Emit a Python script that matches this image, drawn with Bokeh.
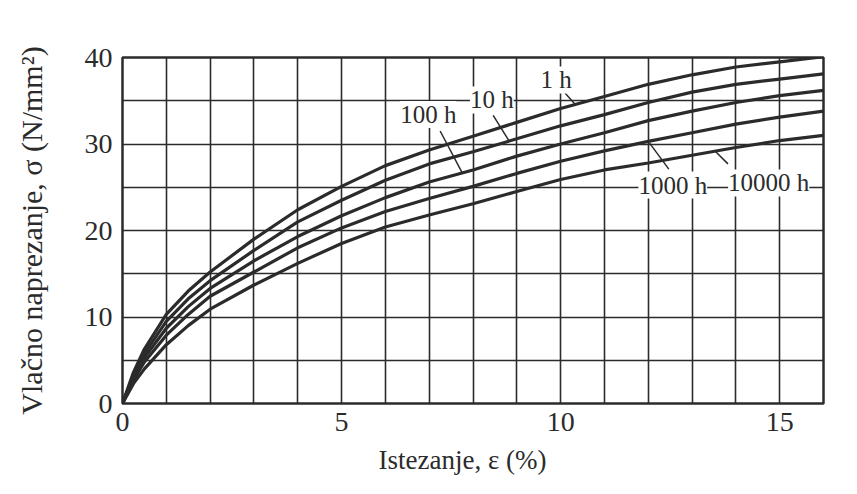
from bokeh.plotting import figure
from bokeh.models import Range1d, SingleIntervalTicker, Label, Title
from bokeh.embed import file_html
from bokeh.resources import INLINE

# strain (%) sample points
strain = [0, 0.25, 0.5, 1, 1.5, 2, 3, 4, 5, 6, 7, 8, 9, 10, 11, 12, 13, 14, 15, 16]
# stress (N/mm^2) for each creep time
s_1h = [0, 3.6, 6.3, 10.3, 13.0, 15.2, 19.0, 22.4, 25.1, 27.5, 29.3, 30.9, 32.5, 34.1, 35.5, 36.9, 38.0, 38.9, 39.5, 40.1]
s_10h = [0, 3.3, 5.8, 9.5, 12.1, 14.2, 17.7, 21.0, 23.5, 25.8, 27.7, 29.1, 30.6, 32.1, 33.4, 34.8, 36.0, 36.9, 37.5, 38.1]
s_100h = [0, 3.0, 5.3, 8.7, 11.2, 13.3, 16.5, 19.3, 21.7, 23.8, 25.6, 27.0, 28.6, 30.0, 31.3, 32.7, 33.8, 34.8, 35.6, 36.2]
s_1000h = [0, 2.7, 4.8, 7.9, 10.3, 12.4, 15.2, 18.0, 20.3, 22.2, 23.7, 25.1, 26.6, 28.0, 29.2, 30.3, 31.3, 32.3, 33.1, 33.8]
s_10000h = [0, 2.3, 4.0, 6.8, 9.0, 10.9, 13.7, 16.2, 18.5, 20.4, 21.8, 23.1, 24.5, 25.9, 27.0, 27.8, 28.7, 29.6, 30.4, 31.0]

series = [s_1h, s_10h, s_100h, s_1000h, s_10000h]
series_labels = ["1 h", "10 h", "100 h", "1000 h", "10000 h"]

# curve label positions (data units) and leader lines
label_x = [9.9, 8.43, 6.98, 12.56, 14.75]
label_y = [37.4, 35.1, 33.4, 25.25, 25.5]
lead_x0 = [10.10, 8.46, 7.25, 12.03, 13.54]
lead_y0 = [35.9, 33.3, 31.5, 30.1, 29.1]
lead_x1 = [10.33, 8.83, 7.76, 12.47, 13.82]
lead_y1 = [34.6, 30.3, 26.6, 27.1, 27.7]

x_title = "Istezanje, ε (%)"
y_title = "Vlačno naprezanje, σ (N/mm²)"

x_ticks_interval = 5
y_ticks_interval = 10
x_grid_interval = 1
y_grid_interval = 5

FONT = "Liberation Serif"
INK = "#2b2b2b"

p = figure(width=838, height=486, output_backend="svg", toolbar_location=None,
           x_range=Range1d(0, 16), y_range=Range1d(0, 40),
           min_border_left=122, min_border_right=15, min_border_top=57, min_border_bottom=83)

p.background_fill_color = "white"
p.border_fill_color = "white"
p.outline_line_color = INK
p.outline_line_width = 2.5

p.xaxis.ticker = SingleIntervalTicker(interval=x_ticks_interval)
p.yaxis.ticker = SingleIntervalTicker(interval=y_ticks_interval)
p.xgrid.ticker = SingleIntervalTicker(interval=x_grid_interval)
p.ygrid.ticker = SingleIntervalTicker(interval=y_grid_interval)
for g in (p.xgrid, p.ygrid):
    g.grid_line_color = INK
    g.grid_line_width = 1.6
    g.grid_line_alpha = 1.0

for ax in (p.xaxis, p.yaxis):
    ax.axis_line_color = None
    ax.major_tick_line_color = None
    ax.minor_tick_line_color = None
    ax.major_label_text_font = FONT
    ax.major_label_text_font_size = "28px"
    ax.major_label_text_color = INK
    ax.axis_label_text_font = FONT
    ax.axis_label_text_font_style = "normal"
    ax.axis_label_text_color = INK

p.yaxis.axis_label_text_font_size = "30px"
p.yaxis.axis_label = y_title
p.xaxis.major_label_standoff = 3
p.yaxis.major_label_standoff = 4
p.yaxis.axis_label_standoff = 34

for s in series:
    p.line(strain, s, line_color=INK, line_width=3.2)

p.segment(x0=lead_x0, y0=lead_y0, x1=lead_x1, y1=lead_y1, line_color=INK, line_width=1.5)

for txt, lx, ly in zip(series_labels, label_x, label_y):
    p.add_layout(Label(x=lx, y=ly, text=txt, text_font=FONT, text_font_size="25px",
                       text_color=INK, text_align="center", text_baseline="middle",
                       background_fill_color="white"))

p.add_layout(Title(text=x_title, align="left", offset=256, standoff=19,
                   text_font=FONT, text_font_size="27px", text_font_style="normal",
                   text_color=INK), "below")

open("out.html", "w").write(file_html(p, INLINE))
